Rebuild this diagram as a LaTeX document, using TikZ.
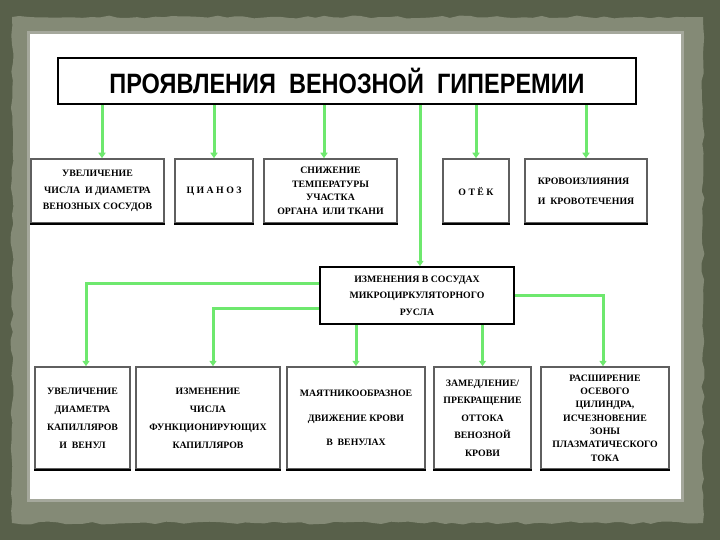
\documentclass[tikz,border=0pt]{standalone}
\usepackage{fontspec}
\setmainfont{Liberation Serif}
\newfontfamily\titlefont{Liberation Sans}
\usepackage{tikz}
\usetikzlibrary{arrows.meta,decorations.pathmorphing}
\usepackage{xcolor}
\definecolor{olivedark}{RGB}{88,96,74}
\definecolor{olivelight}{RGB}{132,138,118}
\definecolor{paneledge}{RGB}{165,168,156}
\definecolor{arrowgreen}{RGB}{110,232,110}
\definecolor{boxgrey}{RGB}{95,95,95}

\begin{document}
\begin{tikzpicture}[x=1pt,y=-1pt,
    box/.style={draw=boxgrey,line width=1.5pt,fill=white,inner sep=0pt,
      align=center,font=\fontsize{9.8}{14}\selectfont\bfseries},
    arr/.style={draw=arrowgreen,line width=3pt,
      -{Triangle[width=7pt,length=5.5pt]}}]
    \useasboundingbox (0,0) rectangle (720,540);

    % Background
    \fill[olivedark] (0,0) rectangle (720,540);
    \pgfmathsetseed{7}
    \fill[olivelight,decorate,decoration={random steps,segment length=9pt,amplitude=1.5pt}]
      (12,17) rectangle (703,523);
    \fill[white,draw=paneledge,line width=3pt] (28,33) rectangle (682,500);

    % Title
    \node[draw=black,line width=2.4pt,minimum width=578,minimum height=46,inner sep=0pt]
      (title) at (347,81)
      {\titlefont\fontsize{28}{28}\selectfont\bfseries\scalebox{0.84}[1]{ПРОЯВЛЕНИЯ\ \ ВЕНОЗНОЙ\ \ ГИПЕРЕМИИ}};

    % First row
    \node[box,minimum width=133,minimum height=64,font=\fontsize{9.8}{16.5}\selectfont\bfseries]
      (veins) at (97.5,191) {УВЕЛИЧЕНИЕ\\ЧИСЛА\ \ И ДИАМЕТРА\\ВЕНОЗНЫХ СОСУДОВ};
    \node[box,minimum width=78,minimum height=64] (cyan) at (214,191) {Ц\ И\ А\ Н\ О\ З};
    \node[box,minimum width=133,minimum height=64,font=\fontsize{9.8}{13.5}\selectfont\bfseries]
      (temp) at (330.5,191) {СНИЖЕНИЕ\\ТЕМПЕРАТУРЫ\\УЧАСТКА\\ОРГАНА\ \ ИЛИ ТКАНИ};
    \node[box,minimum width=66,minimum height=64] (edema) at (476,191) {О\ Т\ Ё\ К};
    \node[box,minimum width=122,minimum height=64,align=left,font=\fontsize{9.8}{20}\selectfont\bfseries]
      (bleed) at (586,191) {КРОВОИЗЛИЯНИЯ\\И\ \ КРОВОТЕЧЕНИЯ};

    % Middle box
    \node[box,draw=black,minimum width=194,minimum height=57,font=\fontsize{9.8}{16.5}\selectfont\bfseries]
      (micro) at (417,295.5) {ИЗМЕНЕНИЯ В СОСУДАХ\\МИКРОЦИРКУЛЯТОРНОГО\\РУСЛА};

    % Second row
    \node[box,minimum width=95,minimum height=102,font=\fontsize{9.8}{18}\selectfont\bfseries]
      (diam) at (82.5,418) {УВЕЛИЧЕНИЕ\\ДИАМЕТРА\\КАПИЛЛЯРОВ\\И\ \ ВЕНУЛ};
    \node[box,minimum width=144,minimum height=102,font=\fontsize{9.8}{18}\selectfont\bfseries]
      (count) at (208,418) {ИЗМЕНЕНИЕ\\ЧИСЛА\\ФУНКЦИОНИРУЮЩИХ\\КАПИЛЛЯРОВ};
    \node[box,minimum width=138,minimum height=102,font=\fontsize{9.8}{24.5}\selectfont\bfseries]
      (pend) at (356,418) {МАЯТНИКООБРАЗНОЕ\\ДВИЖЕНИЕ КРОВИ\\В\ \ ВЕНУЛАХ};
    \node[box,minimum width=97,minimum height=102,font=\fontsize{9.8}{17.5}\selectfont\bfseries]
      (slow) at (482.5,418) {ЗАМЕДЛЕНИЕ/\\ПРЕКРАЩЕНИЕ\\ОТТОКА\\ВЕНОЗНОЙ\\КРОВИ};
    \node[box,minimum width=128,minimum height=102,font=\fontsize{9.8}{13.3}\selectfont\bfseries]
      (axial) at (605,418) {РАСШИРЕНИЕ\\ОСЕВОГО\\ЦИЛИНДРА,\\ИСЧЕЗНОВЕНИЕ\\ЗОНЫ\\ПЛАЗМАТИЧЕСКОГО\\ТОКА};

    % Darker bottom edges
    \foreach \n in {veins,cyan,temp,edema,bleed,diam,count,pend,slow,axial}
      \draw[black,line width=2.2pt] (\n.south west) -- (\n.south east);

    % Arrows from the title
    \draw[arr] ([xshift=4.5pt]veins.north |- title.south) -- ([xshift=4.5pt]veins.north);
    \draw[arr] (cyan.north |- title.south) -- (cyan.north);
    \draw[arr] ([xshift=-6.5pt]temp.north |- title.south) -- ([xshift=-6.5pt]temp.north);
    \draw[arr] ([xshift=3pt]micro.north |- title.south) -- ([xshift=3pt]micro.north);
    \draw[arr] (edema.north |- title.south) -- (edema.north);
    \draw[arr] (bleed.north |- title.south) -- (bleed.north);

    % Arrows from the middle box
    \draw[arr] ([yshift=12.5pt]micro.west) -| ([xshift=3.5pt]diam.north);
    \draw[arr] ([yshift=-12.5pt]micro.west) -| ([xshift=5pt]count.north);
    \draw[arr] (pend.north |- micro.south) -- (pend.north);
    \draw[arr] (slow.north |- micro.south) -- (slow.north);
    \draw[arr] (micro.east) -| ([xshift=-2pt]axial.north);
  \end{tikzpicture}
\end{document}
